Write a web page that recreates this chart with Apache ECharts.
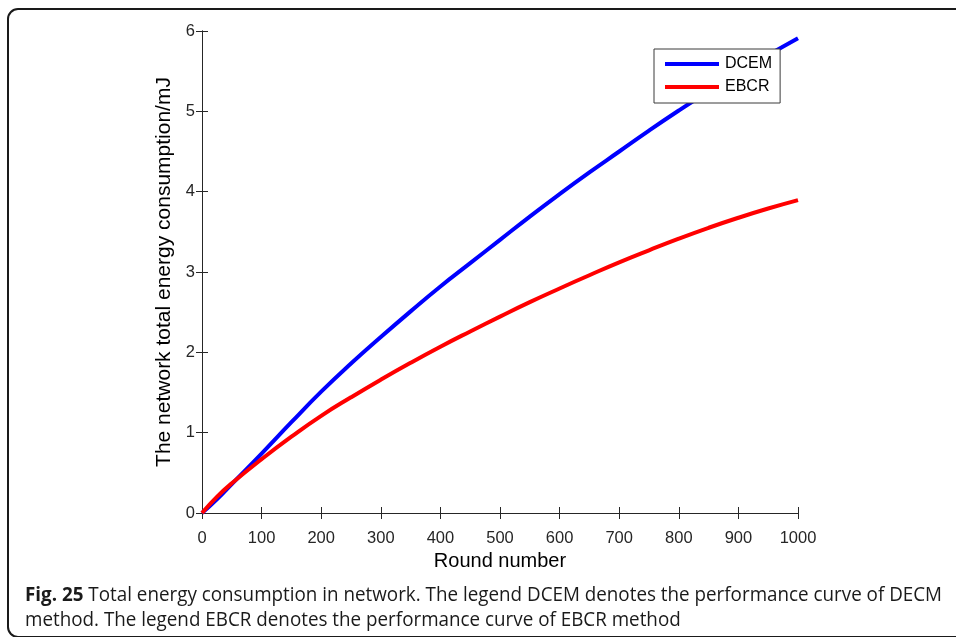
<!DOCTYPE html>
<html>
<head>
<meta charset="utf-8">
<script src="https://cdn.jsdelivr.net/npm/echarts@6/dist/echarts.min.js"></script>
<style>
  html, body { margin: 0; padding: 0; background: #fff; }
  #chart { width: 956px; height: 637px; }
</style>
</head>
<body>
<div id="chart"></div>
<script>
// rounds (x) and energy values (mJ)
const rounds = [0, 25, 50, 100, 150, 200, 250, 300, 350, 400, 450, 500, 550, 600, 650, 700, 750, 800, 850, 900, 950, 1000];
const dcem = [0, 0.17, 0.36, 0.74, 1.13, 1.51, 1.86, 2.19, 2.51, 2.82, 3.11, 3.40, 3.69, 3.97, 4.24, 4.50, 4.76, 5.01, 5.25, 5.48, 5.70, 5.91];
const ebcr = [0, 0.20, 0.37, 0.67, 0.95, 1.21, 1.44, 1.66, 1.87, 2.07, 2.26, 2.445, 2.625, 2.795, 2.96, 3.12, 3.27, 3.415, 3.55, 3.675, 3.79, 3.895];
const seriesNames = ['DCEM', 'EBCR'];
const xTitle = 'Round number';
const yTitle = 'The network total energy consumption/mJ';
const captionBold = 'Fig. 25';
const captionLine1 = ' Total energy consumption in network. The legend DCEM denotes the performance curve of DECM';
const captionLine2 = 'method. The legend EBCR denotes the performance curve of EBCR method';

const axisColor = '#262626';
const toPairs = (xs, ys) => xs.map((x, i) => [x, ys[i]]);

let myChart = echarts.init(document.getElementById('chart'));

const plainAxis = {
    axisLine: { show: true, lineStyle: { color: axisColor, width: 1 } },
    axisTick: { show: true, inside: true, length: 6, lineStyle: { color: axisColor } },
    splitLine: { show: false }
};

myChart.setOption({
    animation: false,
    backgroundColor: '#fff',
    textStyle: { fontFamily: 'Liberation Sans, Arial, sans-serif' },
    grid: { left: 202, right: 158, top: 31, bottom: 124, containLabel: false },
    legend: {
        data: seriesNames,
        orient: 'vertical',
        left: 654,
        top: 49,
        icon: 'rect',
        itemWidth: 54,
        itemHeight: 4,
        itemGap: 7,
        padding: [7, 8, 8, 11],
        backgroundColor: '#fff',
        borderColor: '#3a3a3a',
        borderWidth: 1,
        borderRadius: 0,
        textStyle: { fontSize: 16, color: '#000', padding: [0, 0, 0, 1] }
    },
    xAxis: [
        Object.assign({}, plainAxis, {
            type: 'value', min: 0, max: 1000, interval: 100, position: 'bottom',
            name: xTitle, nameLocation: 'middle', nameGap: 32,
            nameTextStyle: { fontSize: 20, color: '#000' },
            axisLabel: { fontSize: 16.5, color: axisColor, margin: 17, formatter: v => String(v) }
        }),
        Object.assign({}, plainAxis, {
            type: 'value', min: 0, max: 1000, interval: 100, position: 'top',
            axisLabel: { show: false }
        })
    ],
    yAxis: [
        Object.assign({}, plainAxis, {
            type: 'value', min: 0, max: 6, interval: 1, position: 'left',
            name: yTitle, nameLocation: 'middle', nameGap: 26,
            nameTextStyle: { fontSize: 21, color: '#000' },
            axisLabel: { fontSize: 16.5, color: axisColor, margin: 7 }
        }),
        Object.assign({}, plainAxis, {
            type: 'value', min: 0, max: 6, interval: 1, position: 'right',
            axisLabel: { show: false }
        })
    ],
    series: [
        {
            name: seriesNames[0], type: 'line', smooth: true, showSymbol: false,
            data: toPairs(rounds, dcem),
            lineStyle: { color: '#0000ff', width: 4 },
            itemStyle: { color: '#0000ff' }
        },
        {
            name: seriesNames[1], type: 'line', smooth: true, showSymbol: false,
            data: toPairs(rounds, ebcr),
            lineStyle: { color: '#ff0000', width: 4 },
            itemStyle: { color: '#ff0000' }
        }
    ],
    graphic: [
        {
            type: 'rect', silent: true, z: 100,
            shape: { x: 8, y: 9, width: 1100, height: 628, r: 10 },
            style: { fill: 'none', stroke: '#1a1a1a', lineWidth: 2 }
        },
        {
            type: 'text', x: 25, y: 585, scaleX: 0.965, z: 100,
            style: {
                verticalAlign: 'top',
                rich: {
                    b: { fontFamily: 'Open Sans', fontWeight: 'bold', fontSize: 19.5, fill: '#1a1a1a' },
                    n: { fontFamily: 'Open Sans', fontSize: 19.5, fill: '#1a1a1a' }
                },
                text: '{b|' + captionBold + '}{n|' + captionLine1 + '}'
            }
        },
        {
            type: 'text', x: 25, y: 610, scaleX: 0.965, z: 100,
            style: { verticalAlign: 'top', text: captionLine2, fontFamily: 'Open Sans', fontSize: 19.5, fill: '#1a1a1a' }
        }
    ]
});
</script>
</body>
</html>
